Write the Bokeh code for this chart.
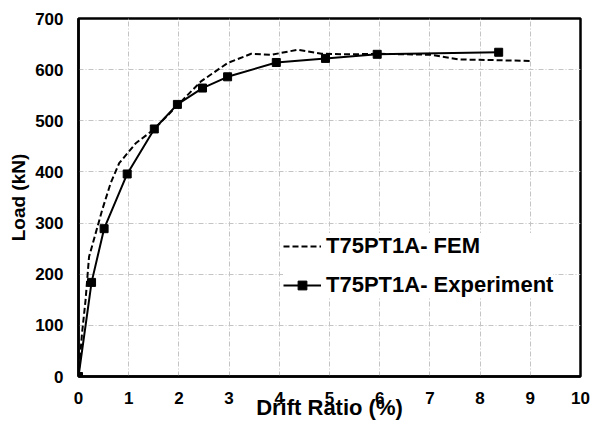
from bokeh.plotting import figure
from bokeh.embed import file_html
from bokeh.resources import INLINE
from bokeh.models import Range1d, FixedTicker, Legend, LegendItem

# Data
exp_drift = [0.0, 0.26, 0.51, 0.97, 1.51, 1.97, 2.47, 2.97, 3.94, 4.92, 5.95, 8.37]
exp_load = [0, 184, 289, 396, 484, 532, 564, 586, 614, 622, 630, 634]

fem_drift = [0.0, 0.07, 0.14, 0.21, 0.47, 0.64, 0.81, 1.14, 1.50, 1.97, 2.44, 2.97,
             3.44, 3.84, 4.37, 4.84, 5.40, 6.00, 7.04, 7.57, 8.10, 9.00]
fem_load = [0, 84, 149, 234, 325, 378, 417, 456, 483, 530, 577, 613,
            631, 629, 639, 631, 630, 631, 629, 620, 619, 617]

x_ticks = [0, 1, 2, 3, 4, 5, 6, 7, 8, 9, 10]
y_ticks = [0, 100, 200, 300, 400, 500, 600, 700]

FONT = "Liberation Sans"

p = figure(width=593, height=423, output_backend="svg", toolbar_location=None,
           x_range=Range1d(0, 10), y_range=Range1d(0, 700),
           min_border_left=78, min_border_right=13, min_border_top=18, min_border_bottom=47)

p.outline_line_color = "black"
p.outline_line_width = 2.5
p.background_fill_color = "white"

for ax in (p.xaxis[0], p.yaxis[0]):
    ax.axis_line_color = "black"
    ax.axis_line_width = 2.5
    ax.major_tick_line_color = None
    ax.minor_tick_line_color = None
    ax.major_label_text_font = FONT
    ax.major_label_text_font_style = "bold"
    ax.major_label_text_font_size = "17px"
    ax.major_label_text_color = "black"
    ax.axis_label_text_font = FONT
    ax.axis_label_text_font_style = "bold"
    ax.axis_label_text_color = "black"

p.xaxis[0].ticker = FixedTicker(ticks=x_ticks)
p.yaxis[0].ticker = FixedTicker(ticks=y_ticks)
p.xaxis[0].axis_label = "Drift Ratio (%)"
p.yaxis[0].axis_label = "Load (kN)"
p.xaxis[0].axis_label_text_font_size = "22px"
p.yaxis[0].axis_label_text_font_size = "19px"
p.xaxis[0].major_label_standoff = 9
p.xaxis[0].axis_label_standoff = -12
p.yaxis[0].major_label_standoff = 9
p.yaxis[0].axis_label_standoff = 3

for g in (p.xgrid[0], p.ygrid[0]):
    g.grid_line_color = "#c4c4c4"
    g.grid_line_width = 1
    g.grid_line_dash = "5 2 1 2"

fem = p.line(fem_drift, fem_load, line_color="black", line_width=2, line_dash="6 3")
exp_line = p.line(exp_drift, exp_load, line_color="black", line_width=2)
exp_pts = p.scatter(exp_drift, exp_load, marker="square", size=8,
                    fill_color="black", line_color="black")

legend = Legend(items=[
    LegendItem(label="T75PT1A- FEM", renderers=[fem]),
    LegendItem(label="T75PT1A- Experiment", renderers=[exp_line, exp_pts]),
], location=(205, 78))
legend.label_text_font = FONT
legend.label_text_font_style = "bold"
legend.label_text_font_size = "22px"
legend.label_text_color = "black"
legend.border_line_color = None
legend.background_fill_color = "white"
legend.background_fill_alpha = 1
legend.glyph_width = 38
legend.glyph_height = 22
legend.label_height = 22
legend.spacing = 13
legend.padding = 6
legend.label_standoff = 5
p.add_layout(legend, "center")

open("out.html", "w").write(file_html(p, INLINE))
